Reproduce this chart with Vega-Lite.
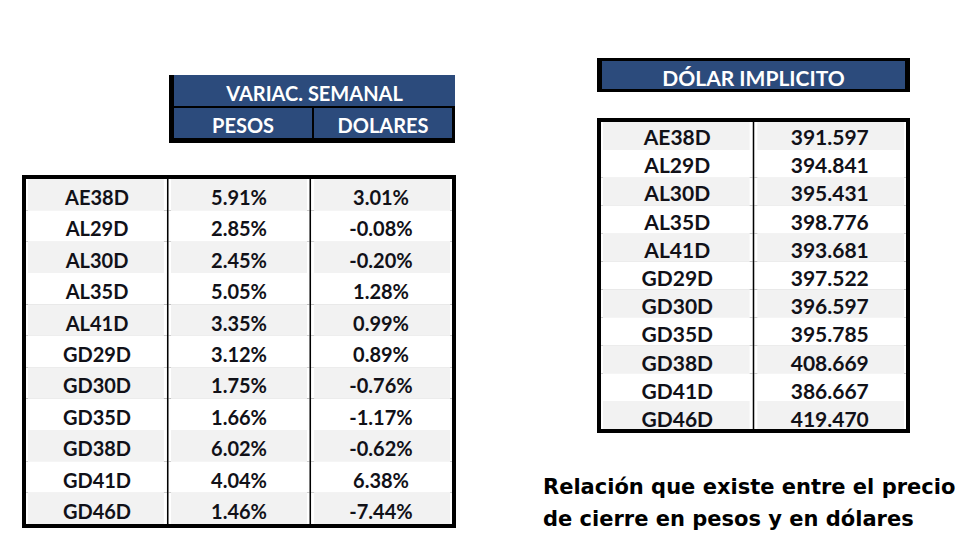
{
  "$schema": "https://vega.github.io/schema/vega-lite/v6.json",
  "width": 980,
  "height": 553,
  "padding": 0,
  "autosize": {"type": "none"},
  "background": "white",
  "config": {
    "view": {"stroke": null},
    "locale": {"number": {"decimal": ".", "thousands": ",", "grouping": [3], "currency": ["$", ""], "minus": "-"}},
    "text": {"font": "Lato", "fontWeight": "bold"}
  },
  "datasets": {
    "bonds": [
      {"ticker": "AE38D", "pesos": 0.0591, "dolares": 0.0301, "implicito": 391.597},
      {"ticker": "AL29D", "pesos": 0.0285, "dolares": -0.0008, "implicito": 394.841},
      {"ticker": "AL30D", "pesos": 0.0245, "dolares": -0.0020, "implicito": 395.431},
      {"ticker": "AL35D", "pesos": 0.0505, "dolares": 0.0128, "implicito": 398.776},
      {"ticker": "AL41D", "pesos": 0.0335, "dolares": 0.0099, "implicito": 393.681},
      {"ticker": "GD29D", "pesos": 0.0312, "dolares": 0.0089, "implicito": 397.522},
      {"ticker": "GD30D", "pesos": 0.0175, "dolares": -0.0076, "implicito": 396.597},
      {"ticker": "GD35D", "pesos": 0.0166, "dolares": -0.0117, "implicito": 395.785},
      {"ticker": "GD38D", "pesos": 0.0602, "dolares": -0.0062, "implicito": 408.669},
      {"ticker": "GD41D", "pesos": 0.0404, "dolares": 0.0638, "implicito": 386.667},
      {"ticker": "GD46D", "pesos": 0.0146, "dolares": -0.0744, "implicito": 419.470}
    ]
  },
  "layer": [
    {
      "data": {"values": [{"part": "frame"}]},
      "mark": {"type": "rect", "fill": "black"},
      "encoding": {
        "x": {"field": "part", "type": "nominal", "scale": {"type": "band", "range": [22, 456], "paddingInner": 0, "paddingOuter": 0}, "axis": null},
        "y": {"field": "part", "type": "nominal", "scale": {"type": "band", "range": [175, 528], "paddingInner": 0, "paddingOuter": 0}, "axis": null}
      }
    },
    {
      "data": {"name": "bonds"},
      "transform": [{"fold": ["ticker", "pesos", "dolares"], "as": ["col", "val"]}],
      "mark": {"type": "rect", "fill": "white"},
      "encoding": {
        "x": {"field": "col", "type": "nominal", "sort": ["ticker", "pesos", "dolares"], "scale": {"type": "band", "range": [26, 452], "paddingInner": 0.011, "paddingOuter": 0}, "axis": null},
        "y": {"field": "ticker", "type": "nominal", "sort": null, "scale": {"type": "band", "range": [179, 524], "paddingInner": 0, "paddingOuter": 0}, "axis": null}
      }
    },
    {
      "data": {"name": "bonds"},
      "transform": [{"fold": ["ticker", "pesos", "dolares"], "as": ["col", "val"]}],
      "mark": {"type": "rect"},
      "encoding": {
        "x": {"field": "col", "type": "nominal", "sort": ["ticker", "pesos", "dolares"], "scale": {"type": "band", "range": [28, 450], "paddingInner": 0.05, "paddingOuter": 0}, "axis": null},
        "y": {"field": "ticker", "type": "nominal", "sort": null, "scale": {"type": "band", "range": [179, 524], "paddingInner": 0, "paddingOuter": 0}, "axis": null},
        "fill": {"condition": {"test": {"field": "ticker", "oneOf": ["AE38D", "AL30D", "AL41D", "GD30D", "GD38D", "GD46D"]}, "value": "#f2f2f2"}, "value": "white"}
      }
    },
    {
      "data": {"name": "bonds"},
      "encoding": {
        "y": {"field": "ticker", "type": "nominal", "sort": null, "scale": {"type": "point", "range": [181, 527], "padding": 0.5}, "axis": null}
      },
      "layer": [
        {
          "mark": {"type": "text", "fontSize": 20, "color": "#111118", "align": "center", "baseline": "middle", "dy": 2},
          "encoding": {
            "x": {"datum": "ticker", "type": "nominal", "scale": {"type": "point", "domain": ["ticker", "pesos", "dolares"], "range": [26, 452], "padding": 0.5}, "axis": null},
            "text": {"field": "ticker"}
          }
        },
        {
          "mark": {"type": "text", "fontSize": 20, "color": "#111118", "align": "center", "baseline": "middle", "dy": 2},
          "encoding": {
            "x": {"datum": "pesos", "type": "nominal"},
            "text": {"field": "pesos", "format": ".2%"}
          }
        },
        {
          "mark": {"type": "text", "fontSize": 20, "color": "#111118", "align": "center", "baseline": "middle", "dy": 2},
          "encoding": {
            "x": {"datum": "dolares", "type": "nominal"},
            "text": {"field": "dolares", "format": ".2%"}
          }
        }
      ]
    },
    {
      "data": {"values": [{"part": "frame"}]},
      "mark": {"type": "rect", "fill": "black"},
      "encoding": {
        "x": {"field": "part", "type": "nominal", "scale": {"type": "band", "range": [169, 455], "paddingInner": 0, "paddingOuter": 0}, "axis": null},
        "y": {"field": "part", "type": "nominal", "scale": {"type": "band", "range": [75, 143], "paddingInner": 0, "paddingOuter": 0}, "axis": null}
      }
    },
    {
      "data": {"values": [{"label": "VARIAC. SEMANAL"}]},
      "encoding": {
        "x": {"field": "label", "type": "nominal", "scale": {"type": "band", "range": [174, 455], "paddingInner": 0, "paddingOuter": 0}, "axis": null},
        "y": {"field": "label", "type": "nominal", "scale": {"type": "band", "range": [75, 106], "paddingInner": 0, "paddingOuter": 0}, "axis": null}
      },
      "layer": [
        {"mark": {"type": "rect", "fill": "#2c4b7c"}},
        {
          "mark": {"type": "text", "fontSize": 20, "color": "white", "align": "center", "baseline": "middle", "dy": 4},
          "encoding": {
            "x": {"field": "label", "type": "nominal", "bandPosition": 0.5},
            "y": {"field": "label", "type": "nominal", "bandPosition": 0.5},
            "text": {"field": "label"}
          }
        }
      ]
    },
    {
      "data": {"values": [{"label": "PESOS", "row": "sub"}, {"label": "DOLARES", "row": "sub"}]},
      "encoding": {
        "x": {"field": "label", "type": "nominal", "sort": null, "scale": {"type": "band", "range": [174, 452], "paddingInner": 0.014, "paddingOuter": 0}, "axis": null},
        "y": {"field": "row", "type": "nominal", "scale": {"type": "band", "range": [108, 138], "paddingInner": 0, "paddingOuter": 0}, "axis": null}
      },
      "layer": [
        {"mark": {"type": "rect", "fill": "#2c4b7c"}},
        {
          "mark": {"type": "text", "fontSize": 20, "color": "white", "align": "center", "baseline": "middle", "dy": 4},
          "encoding": {
            "x": {"field": "label", "type": "nominal", "sort": null, "bandPosition": 0.5},
            "y": {"field": "row", "type": "nominal", "bandPosition": 0.5},
            "text": {"field": "label"}
          }
        }
      ]
    },
    {
      "data": {"values": [{"part": "frame"}]},
      "mark": {"type": "rect", "fill": "black"},
      "encoding": {
        "x": {"field": "part", "type": "nominal", "scale": {"type": "band", "range": [597, 910], "paddingInner": 0, "paddingOuter": 0}, "axis": null},
        "y": {"field": "part", "type": "nominal", "scale": {"type": "band", "range": [58, 92], "paddingInner": 0, "paddingOuter": 0}, "axis": null}
      }
    },
    {
      "data": {"values": [{"label": "DÓLAR IMPLICITO"}]},
      "encoding": {
        "x": {"field": "label", "type": "nominal", "scale": {"type": "band", "range": [602, 905], "paddingInner": 0, "paddingOuter": 0}, "axis": null},
        "y": {"field": "label", "type": "nominal", "scale": {"type": "band", "range": [61, 89], "paddingInner": 0, "paddingOuter": 0}, "axis": null}
      },
      "layer": [
        {"mark": {"type": "rect", "fill": "#2c4b7c"}},
        {
          "mark": {"type": "text", "fontSize": 21, "color": "white", "align": "center", "baseline": "middle", "dy": 5},
          "encoding": {
            "x": {"field": "label", "type": "nominal", "bandPosition": 0.5},
            "y": {"field": "label", "type": "nominal", "bandPosition": 0.5},
            "text": {"field": "label"}
          }
        }
      ]
    },
    {
      "data": {"values": [{"part": "frame"}]},
      "mark": {"type": "rect", "fill": "black"},
      "encoding": {
        "x": {"field": "part", "type": "nominal", "scale": {"type": "band", "range": [597, 910], "paddingInner": 0, "paddingOuter": 0}, "axis": null},
        "y": {"field": "part", "type": "nominal", "scale": {"type": "band", "range": [118, 433], "paddingInner": 0, "paddingOuter": 0}, "axis": null}
      }
    },
    {
      "data": {"name": "bonds"},
      "transform": [{"fold": ["ticker", "implicito"], "as": ["col", "val"]}],
      "mark": {"type": "rect", "fill": "white"},
      "encoding": {
        "x": {"field": "col", "type": "nominal", "sort": ["ticker", "implicito"], "scale": {"type": "band", "range": [601, 906], "paddingInner": 0.01, "paddingOuter": 0}, "axis": null},
        "y": {"field": "ticker", "type": "nominal", "sort": null, "scale": {"type": "band", "range": [122, 429], "paddingInner": 0, "paddingOuter": 0}, "axis": null}
      }
    },
    {
      "data": {"name": "bonds"},
      "transform": [{"fold": ["ticker", "implicito"], "as": ["col", "val"]}],
      "mark": {"type": "rect"},
      "encoding": {
        "x": {"field": "col", "type": "nominal", "sort": ["ticker", "implicito"], "scale": {"type": "band", "range": [603, 904], "paddingInner": 0.05, "paddingOuter": 0}, "axis": null},
        "y": {"field": "ticker", "type": "nominal", "sort": null, "scale": {"type": "band", "range": [122, 429], "paddingInner": 0, "paddingOuter": 0}, "axis": null},
        "fill": {"condition": {"test": {"field": "ticker", "oneOf": ["AE38D", "AL30D", "AL41D", "GD30D", "GD38D", "GD46D"]}, "value": "#f2f2f2"}, "value": "white"}
      }
    },
    {
      "data": {"name": "bonds"},
      "encoding": {
        "y": {"field": "ticker", "type": "nominal", "sort": null, "scale": {"type": "point", "range": [123, 433], "padding": 0.5}, "axis": null}
      },
      "layer": [
        {
          "mark": {"type": "text", "fontSize": 21, "color": "#111118", "align": "center", "baseline": "middle", "dy": 2},
          "encoding": {
            "x": {"datum": "ticker", "type": "nominal", "scale": {"type": "point", "domain": ["ticker", "implicito"], "range": [601, 906], "padding": 0.5}, "axis": null},
            "text": {"field": "ticker"}
          }
        },
        {
          "mark": {"type": "text", "fontSize": 21, "color": "#111118", "align": "center", "baseline": "middle", "dy": 2},
          "encoding": {
            "x": {"datum": "implicito", "type": "nominal"},
            "text": {"field": "implicito", "format": ".3f"}
          }
        }
      ]
    },
    {
      "data": {"values": [{"line": "Relación que existe entre el precio", "block": "caption"}, {"line": "de cierre en pesos y en dólares", "block": "caption"}]},
      "mark": {"type": "text", "font": "DejaVu Sans", "fontWeight": "bold", "fontSize": 21, "color": "black", "align": "left", "baseline": "alphabetic"},
      "encoding": {
        "x": {"field": "block", "type": "nominal", "scale": {"type": "point", "range": [543, 960], "padding": 0, "align": 0}, "axis": null},
        "y": {"field": "line", "type": "nominal", "sort": null, "scale": {"type": "point", "range": [494, 526], "padding": 0}, "axis": null},
        "text": {"field": "line"}
      }
    }
  ],
  "resolve": {"scale": {"x": "independent", "y": "independent"}}
}
